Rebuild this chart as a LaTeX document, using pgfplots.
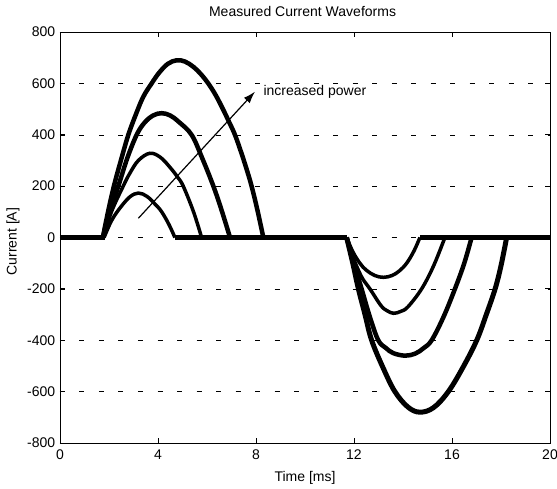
\documentclass[border=0pt]{standalone}
\usepackage{pgfplots}
\pgfplotsset{compat=1.18}
\usepackage{fontspec}
\setmainfont{Liberation Sans}
\usetikzlibrary{arrows.meta}
\begin{document}
\fontsize{14}{16}\selectfont
\begin{tikzpicture}
\useasboundingbox (-60pt,-45pt) rectangle (497pt,443pt);
\begin{axis}[
  scale only axis, width=490pt, height=411pt,
  xmin=0, xmax=20, ymin=-800, ymax=800,
  xtick={0,4,...,20}, ytick={-800,-600,...,800},
  tick align=inside, major tick length=5pt,
  ymajorgrids,
  grid style={black, line width=0.5pt, dash pattern=on 5pt off 14.5pt},
  axis line style={line width=0.8pt},
  tick style={black, line width=0.8pt},
  /pgf/number format/assume math mode=true,
  ticklabel style={font=\fontsize{14}{16}\selectfont},
  xticklabel style={yshift=-2pt},
  xlabel={Time [ms]}, ylabel={Current [A]},
  title={Measured Current Waveforms},
  label style={font=\fontsize{14}{16}\selectfont},
  xlabel style={at={(axis description cs:0.5,-0.0852)}, anchor=center},
  ylabel style={at={(axis description cs:-0.0959,0.49)}, anchor=center},
  title style={at={(axis description cs:0.495,1.036)}, anchor=center, font=\fontsize{14}{16}\selectfont},
  clip=true,
]
% baseline (noise band around zero)
\addplot[black, line width=5pt, unbounded coords=jump] coordinates {
  (0,0) (1.85,0) (nan,nan) (4.69,0) (11.7,0) (nan,nan) (14.69,0) (20,0)};
% positive pulses
\addplot[black, line width=3.5pt, smooth, tension=0.6] coordinates {
  (1.8,0) (2.1,65) (2.45,115) (2.85,158) (3.2,173) (3.55,160) (3.9,128) (4.15,100) (4.45,50) (4.69,0)};
\addplot[black, line width=3.5pt, smooth, tension=0.6] coordinates {
  (1.78,0) (2.1,100) (2.58,200) (2.85,250) (3.2,300) (3.67,328) (4.1,312) (4.5,272) (4.8,235) (5.03,200) (5.45,100) (5.78,0)};
\addplot[black, line width=4.5pt, smooth, tension=0.6] coordinates {
  (1.75,0) (2.0,95) (2.38,200) (2.75,310) (3.13,400) (3.45,447) (3.8,475) (4.15,484) (4.5,475) (4.85,450) (5.37,400) (5.8,310) (6.26,200) (6.6,105) (6.94,0)};
\addplot[black, line width=4.5pt, smooth, tension=0.6] coordinates {
  (1.75,0) (1.95,95) (2.2,200) (2.5,305) (2.79,400) (3.1,480) (3.4,548) (3.74,600) (4.05,642) (4.4,676) (4.76,690) (5.1,685) (5.45,664) (5.75,636) (6.05,600) (6.35,555) (6.65,500) (6.9,450) (7.14,400) (7.4,330) (7.62,265) (7.82,200) (8.05,110) (8.3,0)};
% negative pulses
\addplot[black, line width=3.5pt, smooth, tension=0.6] coordinates {
  (11.7,0) (11.95,-55) (12.24,-100) (12.5,-127) (12.85,-148) (13.2,-155) (13.55,-148) (13.85,-130) (14.15,-100) (14.45,-52) (14.69,0)};
\addplot[black, line width=3.5pt, smooth, tension=0.6] coordinates {
  (11.7,0) (11.9,-60) (12.1,-110) (12.35,-160) (12.65,-200) (13.1,-265) (13.35,-285) (13.61,-295) (13.9,-288) (14.2,-270) (14.76,-200) (15.25,-110) (15.71,0)};
\addplot[black, line width=4.5pt, smooth, tension=0.6] coordinates {
  (11.7,0) (11.95,-85) (12.31,-200) (12.65,-310) (12.99,-400) (13.3,-430) (13.6,-450) (14.08,-460) (14.5,-452) (14.85,-430) (15.17,-400) (15.65,-310) (16.12,-200) (16.5,-100) (16.8,0)};
\addplot[black, line width=5pt, smooth, tension=0.6] coordinates {
  (11.7,0) (11.95,-100) (12.18,-200) (12.45,-300) (12.72,-400) (13.2,-510) (13.67,-600) (14.2,-660) (14.69,-680) (15.25,-662) (15.85,-600) (16.45,-505) (17.01,-400) (17.4,-300) (17.76,-200) (18.0,-110) (18.23,0)};
% annotation arrow
\draw[black, line width=1.2pt, -{Latex[length=12pt,width=8pt]}] (axis cs:3.2,75) -- (axis cs:7.96,568);
\node[anchor=west, inner sep=0pt, font=\fontsize{14}{16}\selectfont] at (axis cs:8.3,565) {increased power};
\end{axis}
\end{tikzpicture}
\end{document}
